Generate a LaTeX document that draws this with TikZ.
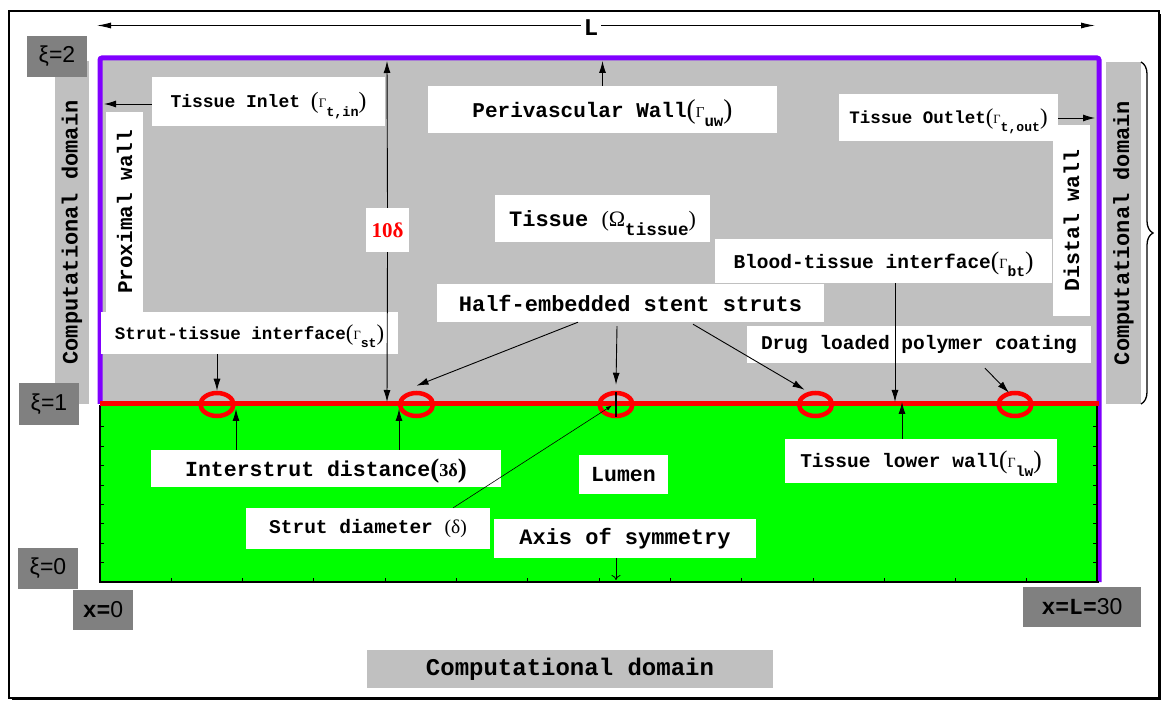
\documentclass[tikz,border=0pt]{standalone}
\usepackage{fontspec}
\setmainfont{Liberation Serif}
\setsansfont{Liberation Sans}
\setmonofont{Liberation Mono}
\usepackage{graphicx}
\usetikzlibrary{arrows.meta,decorations.pathreplacing,shapes.geometric}
\definecolor{tgray}{HTML}{C0C0C0}
\definecolor{dgray}{HTML}{808080}
\definecolor{pviolet}{HTML}{8000FF}
\definecolor{lgreen}{HTML}{00FF00}
\newcommand\fs[1]{\fontsize{#1}{#1}\selectfont}
\newcommand\Gm[1]{\smash{{\rmfamily\mdseries\raisebox{-0.05em}{\scalebox{1.3}{(}}\scalebox{0.72}{Γ}}\raisebox{-0.45em}{\scalebox{0.75}{#1}}{\rmfamily\mdseries\raisebox{-0.05em}{\scalebox{1.3}{)}}}}}
\begin{document}
\begin{tikzpicture}[x=1pt,y=-1pt,
  wb/.style={fill=white, inner sep=0pt},
  gb/.style={fill=tgray, inner sep=0pt},
  db/.style={fill=dgray, inner sep=0pt},
  arr/.style={-{Latex[length=12pt,width=7pt]}, line width=0.9pt},
  strut/.style={ellipse, draw=red, line width=4.5pt, minimum width=33pt, minimum height=23pt, inner sep=0pt},
  mono/.style={font=\fs{#1}\ttfamily\bfseries},
]
\useasboundingbox (0,0) rectangle (1163,703);
% frame
\draw[line width=1.3pt] (9,11) rectangle (1159,698);
\draw[line width=1.5pt] (12,699.5) -- (1160.3,699.5) -- (1160.3,14);
% regions
\fill[tgray] (100,58) rectangle (1099,404);
\fill[lgreen] (100,404) rectangle (1099,582);
% side bars
\node[gb, rotate=90, minimum width=343, minimum height=34, mono=22] (lcd) at (72,232.5) {Computational domain};
\node[gb, rotate=90, minimum width=342, minimum height=35, mono=22] (rcd) at (1123.5,233) {Computational domain};
\draw[line width=1.3pt, decorate, decoration={brace, amplitude=12pt}] (1141,62) -- (1141,404);
% purple boundary
\draw[pviolet, line width=5pt, rounded corners=2pt] (100,404) -- (100,58) -- (1099,58) -- (1099,582);
% black axes
\draw[line width=2.5pt] (100,405) -- (100,582) -- (1099,582);
\draw[line width=1.2pt] (1097,406) -- (1097,582);
\foreach \k in {1,...,13} \draw[line width=1pt] ({100+71.3*\k},582) -- ++(0,-4);
\foreach \k in {1,...,8} {
  \draw[line width=1pt] (100,{582-19.4*\k}) -- ++(4,0);
  \draw[line width=1pt] (1097,{582-19.4*\k}) -- ++(-4,0);
}
% red interface
\draw[red, line width=5pt] (100,404) -- (1099,404);
% struts
\foreach \i/\xx in {1/217,2/416.5,3/616,4/815.5,5/1015}
  \node[strut] (s\i) at (\xx,404.5) {};
% dark labels
\node[db, minimum width=60, minimum height=41, font=\fs{23}\sffamily] (xi2) at (57,56.5) {ξ=2};
\node[db, minimum width=60, minimum height=42, font=\fs{23}\sffamily] (xi1) at (49,404) {ξ=1};
\node[db, minimum width=60, minimum height=41, font=\fs{23}\sffamily] (xi0) at (48,568.5) {ξ=0};
\node[db, minimum width=60, minimum height=40, font=\fs{23}] (x0) at (103,610) {{\ttfamily\bfseries x=}{\sffamily 0}};
\node[db, minimum width=118, minimum height=40, font=\fs{23}] (xL) at (1082,607) {{\ttfamily\bfseries x=L=}{\sffamily 30}};
\node[gb, minimum width=406, minimum height=38, mono=24] (bcd) at (570,669) {Computational domain};
% white label boxes
\node[wb, rotate=90, minimum width=200, minimum height=37, mono=21] (prox) at (124.5,212) {Proximal wall\hspace{18pt}};
\node[wb, minimum width=219, minimum height=47, mono=17.5] (tout) at (948.5,117.5) {Tissue Outlet\Gm{t,out}};
\node[wb, rotate=90, minimum width=191, minimum height=37, mono=21.5] (dist) at (1071.5,220.5) {Distal wall};
\node[wb, minimum width=233, minimum height=49, mono=18] (tin) at (268.5,101.5) {Tissue Inlet \Gm{t,in}};
\node[wb, minimum width=349, minimum height=47, mono=21] (peri) at (602.5,109.5) {Perivascular Wall\Gm{uw}};
\node[wb, minimum width=215, minimum height=47, mono=22] (tis) at (602.5,218.5) {Tissue \smash{{\rmfamily\mdseries(Ω}\raisebox{-0.4em}{\scalebox{0.8}{tissue}}{\rmfamily\mdseries)}}};
\node[wb, minimum width=337, minimum height=44, mono=19.5] (bti) at (883.5,261) {Blood-tissue interface\Gm{bt}};
\node[wb, minimum width=387, minimum height=38, mono=22] (half) at (630.5,303) {Half-embedded stent struts};
\node[wb, minimum width=344, minimum height=37, mono=19.5] (drug) at (919,344.5) {Drug loaded polymer coating};
\node[wb, minimum width=297, minimum height=42, mono=17.5] (sti) at (249.5,333) {Strut-tissue interface\Gm{st}};
\node[wb, minimum width=43, minimum height=44, font=\fs{21}\rmfamily\bfseries, text=red] (ten) at (387.5,230) {10δ};
\node[wb, minimum width=350, minimum height=37, mono=21.5] (inter) at (326,468.5) {Interstrut distance\smash{{\rmfamily\raisebox{-0.05em}{\scalebox{1.25}{(}}\scalebox{0.85}{3δ}\raisebox{-0.05em}{\scalebox{1.25}{)}}}}};
\node[wb, minimum width=244, minimum height=41, mono=19.5] (sdia) at (368,528.5) {Strut diameter {\rmfamily\mdseries(δ)}};
\node[wb, minimum width=89, minimum height=39, mono=21.5] (lumen) at (623.5,474.5) {Lumen};
\node[wb, minimum width=272, minimum height=44, mono=19.5] (tlw) at (921,461) {Tissue lower wall\Gm{lw}};
\node[wb, minimum width=262, minimum height=39, mono=22] (axis) at (625,538.5) {Axis of symmetry};
% coordinates for free ends
\coordinate (La) at (97,25.5);
\coordinate (Lb) at (1095,25.5);
\coordinate (pin) at (104,104);
\coordinate (pperi) at (602.5,61);
\coordinate (pout) at (1095,118);
\coordinate (t10a) at (387,61);
\coordinate (t10b) at (387,402);
\coordinate (pbt) at (895,402);
\coordinate (plw) at (902,402);
\coordinate (is1) at (236,409);
\coordinate (is2) at (399,409);
\coordinate (paxis) at (616,580);
% L dimension
\draw[{Latex[length=14pt,width=6pt]}-{Latex[length=14pt,width=6pt]}, line width=0.9pt] (La) -- (Lb);
\node[fill=white, inner sep=3pt, mono=24] (Lt) at (591,28) {L};
% arrows
\draw[arr] (tin.west |- pin) -- (pin);
\draw[arr] (peri.north) -- (pperi);
\draw[arr] (tout.east |- pout) -- (pout);
\draw[arr] (ten.north) -- (t10a);
\draw[arr] (ten.south) -- (t10b);
\draw[arr] (sti.south -| s1) -- (s1.north);
\draw[arr] ([xshift=-52.5pt]half.south) -- ([yshift=5pt]s2.north);
\draw[arr] ([xshift=-13.5pt,yshift=-4pt]half.south) -- ([yshift=6pt]s3.north);
\draw[arr] ([xshift=62.5pt,yshift=-2pt]half.south) -- ([xshift=-11pt,yshift=1pt]s4.north);
\draw[arr] ([xshift=66pt,yshift=-5pt]drug.south) -- ([xshift=-6pt,yshift=-2pt]s5.north);
\draw[arr] ([xshift=11.5pt]bti.south) -- (pbt);
\draw[arr] ([xshift=-19pt]tlw.north) -- (plw);
\draw[arr] (inter.north -| is1) -- (is1);
\draw[arr] (inter.north -| is2) -- (is2);
\draw[-{Latex[length=6pt,width=4pt]}, line width=0.6pt] ([xshift=-37pt]sdia.north east) -- ([xshift=-4pt,yshift=-1pt]s3.center);
\draw[line width=1.2pt] ([yshift=-1pt]s3.north) -- ([yshift=1pt]s3.south);
\draw[-{To[length=5pt,width=9pt]}, line width=0.8pt] (axis.south -| paxis) -- (paxis);
\end{tikzpicture}
\end{document}
